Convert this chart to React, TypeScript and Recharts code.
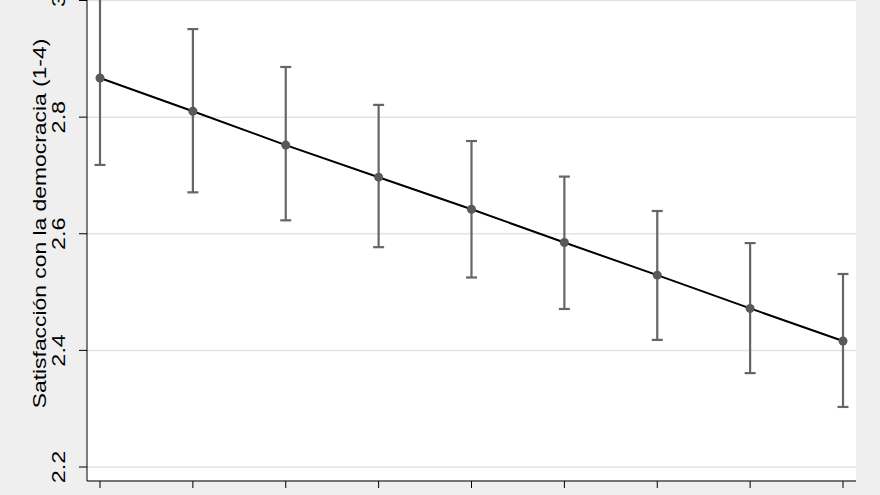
import React from 'react';
import { ComposedChart, Line, XAxis, YAxis, CartesianGrid, ErrorBar } from 'recharts';

const groups = [1, 2, 3, 4, 5, 6, 7, 8, 9];
const means = [2.867, 2.81, 2.752, 2.697, 2.642, 2.585, 2.529, 2.472, 2.416];
const lowers = [2.718, 2.671, 2.623, 2.577, 2.525, 2.471, 2.418, 2.361, 2.303];
const uppers = [3.016, 2.951, 2.886, 2.821, 2.759, 2.698, 2.639, 2.584, 2.531];
const yTicks = [2.2, 2.4, 2.6, 2.8, 3];
const yTitle = 'Satisfacción con la democracia (1-4)';

const data = groups.map((g, i) => ({
  x: g,
  mean: means[i],
  err: [means[i] - lowers[i], uppers[i] - means[i]],
}));

const FONT = '"Liberation Sans", Arial, Helvetica, sans-serif';

const YTick = (props: any) => {
  const { y, payload } = props;
  return (
    <g transform={`translate(59,${y}) rotate(-90) scale(1.3,1)`}>
      <text x={0} y={0} textAnchor="middle" dominantBaseline="central" fontSize={18} fill="#000" fontFamily={FONT}>
        {String(payload.value)}
      </text>
    </g>
  );
};

const TitleLabel = (props: any) => (
  <g transform="translate(39,253.5) rotate(-90) scale(1.27,1)">
    <text x={0} y={0} textAnchor="middle" dominantBaseline="central" fontSize={18} fill="#000" fontFamily={FONT}>
      {yTitle}
    </text>
  </g>
);

export default function App() {
  return (
    <div style={{ position: 'absolute', left: 0, top: -30, width: 880, height: 541, background: '#efefef' }}>
      <ComposedChart width={880} height={541} data={data} margin={{ top: 16.5, right: 24, bottom: 0, left: 0 }}>
        <CartesianGrid vertical={false} stroke="#e3e3e3" strokeWidth={1.5} fill="#ffffff" fillOpacity={1} />
        <XAxis
          dataKey="x"
          type="number"
          domain={[1, 9]}
          ticks={groups}
          interval={0}
          tickFormatter={() => ''}
          tickSize={7}
          axisLine={{ stroke: '#000' }}
          tickLine={{ stroke: '#000' }}
          padding={{ left: 13, right: 13 }}
          height={30}
        />
        <YAxis
          type="number"
          width={87}
          domain={[2.2, 3]}
          ticks={yTicks}
          interval={0}
          allowDataOverflow
          tick={<YTick />}
          tickSize={8}
          axisLine={{ stroke: '#000' }}
          tickLine={{ stroke: '#000' }}
          padding={{ top: 14, bottom: 14 }}
          label={<TitleLabel />}
        />
        <Line
          dataKey="mean"
          type="linear"
          stroke="#000"
          strokeWidth={2}
          dot={{ r: 4.5, fill: '#595959', stroke: '#595959', strokeWidth: 0 }}
          activeDot={false}
          isAnimationActive={false}
        >
          <ErrorBar dataKey="err" direction="y" width={5.5} stroke="#666" strokeWidth={2.2} isAnimationActive={false} />
        </Line>
      </ComposedChart>
    </div>
  );
}
